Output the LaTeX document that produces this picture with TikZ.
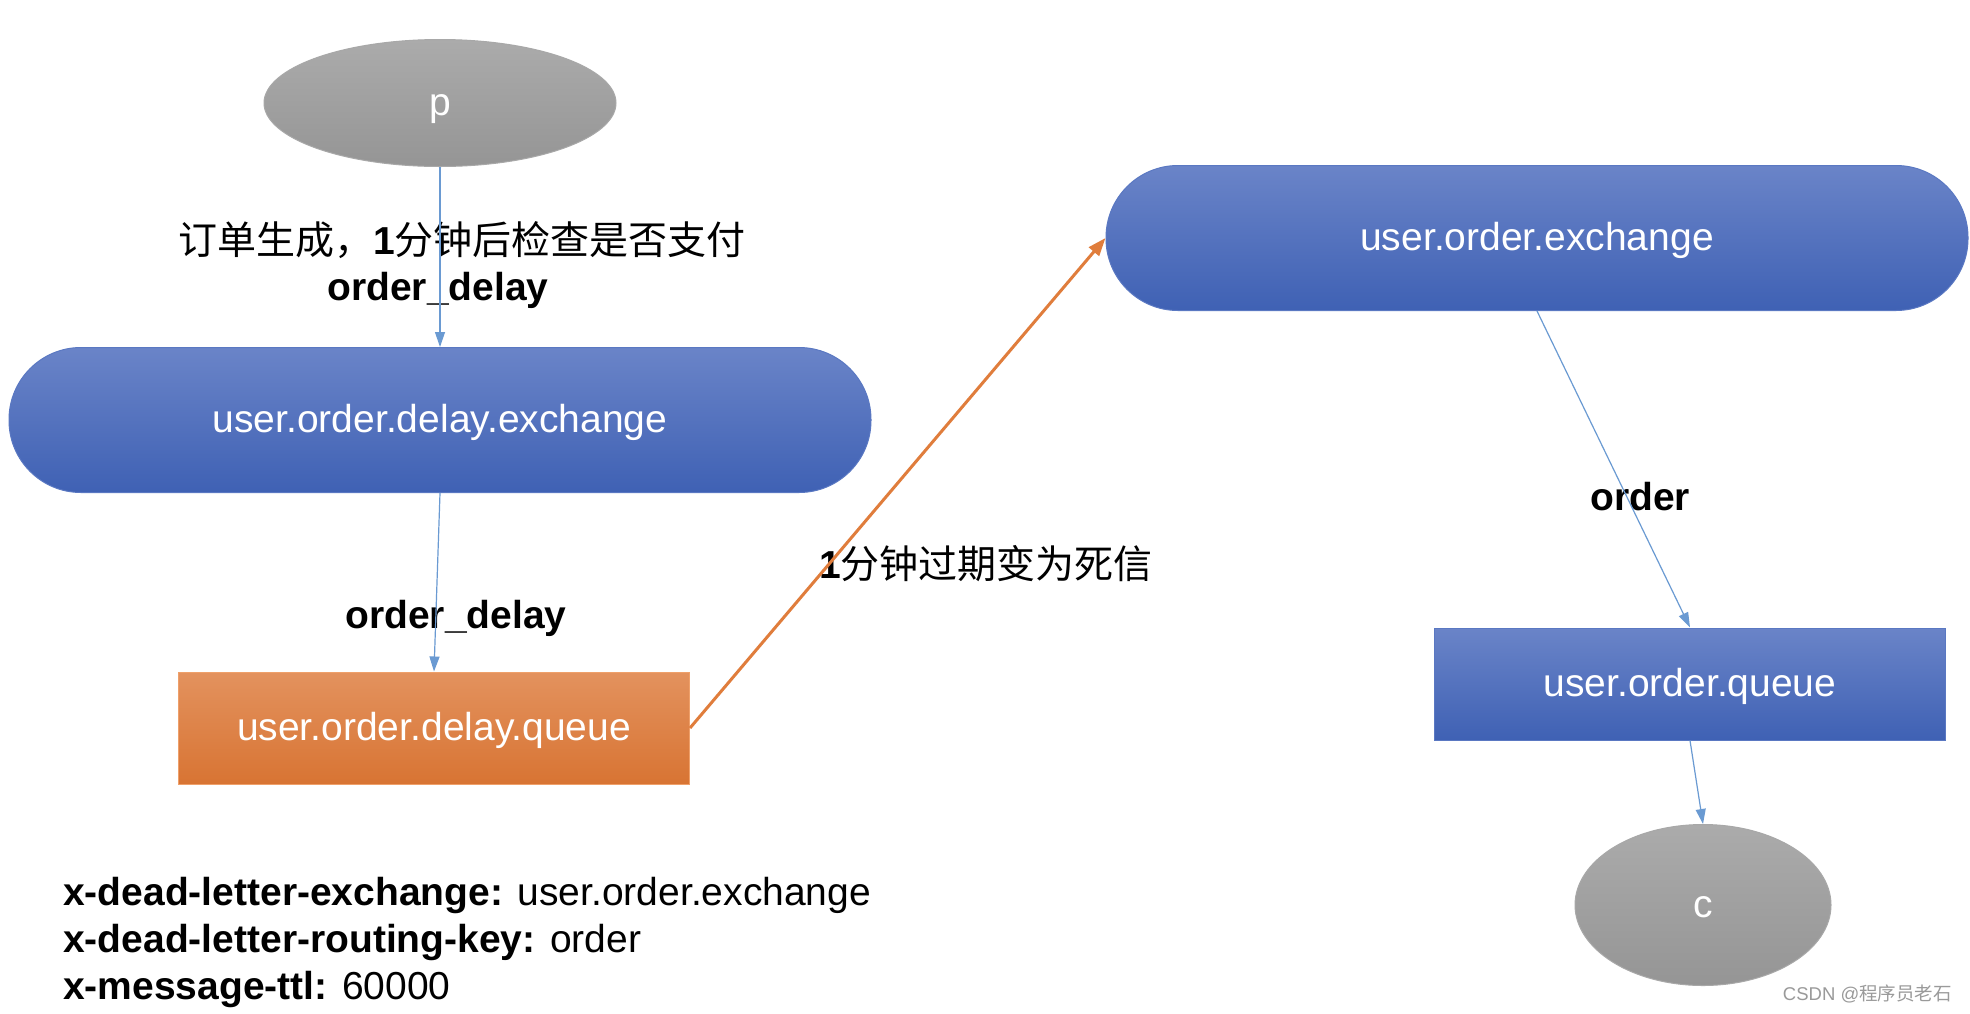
\documentclass[tikz,border=0pt]{standalone}
\usepackage{fontspec}
\setmainfont{Liberation Sans}
\newfontfamily\cjk{Noto Sans CJK SC}
\usetikzlibrary{arrows.meta,shapes.geometric}
\definecolor{blueTop}{HTML}{6A84C8}
\definecolor{blueMid}{HTML}{4A6FC2}
\definecolor{blueBot}{HTML}{3F61B4}
\definecolor{blueEdge}{HTML}{5A78C2}
\definecolor{grayTop}{HTML}{ABABAB}
\definecolor{grayBot}{HTML}{959595}
\definecolor{grayEdge}{HTML}{A8A8A8}
\definecolor{orTop}{HTML}{E3925E}
\definecolor{orMid}{HTML}{E5843F}
\definecolor{orBot}{HTML}{D87433}
\definecolor{orEdge}{HTML}{EFA06A}
\definecolor{linkBlue}{HTML}{6A9AD2}
\definecolor{linkOrange}{HTML}{E07D3C}
\definecolor{wmGray}{HTML}{9A9A9A}
\tikzset{
  big/.style={font=\fontsize{39}{47}\selectfont},
  shapetext/.style={big, text=white, text height=28.5pt, text depth=4.5pt, inner sep=0pt, line width=1pt},
  bluestadium/.style={shapetext, draw=blueEdge,
    top color=blueTop, middle color=blueMid, bottom color=blueBot,
    rectangle, rounded corners=72pt, minimum width=862pt, minimum height=145pt},
  bluebox/.style={shapetext, draw=blueEdge,
    top color=blueTop, middle color=blueMid, bottom color=blueBot,
    rectangle, minimum width=511pt, minimum height=112pt},
  orangebox/.style={shapetext, draw=orEdge,
    top color=orTop, middle color=orMid, bottom color=orBot,
    rectangle, minimum width=511pt, minimum height=112pt},
  grayell/.style={shapetext, draw=grayEdge,
    top color=grayTop, bottom color=grayBot, ellipse},
  lbl/.style={big, inner sep=0pt},
  blink/.style={draw=linkBlue, line width=1.2pt, -{Triangle[length=15pt,width=10pt]}},
  olink/.style={draw=linkOrange, line width=3pt, -{Triangle[length=18pt,width=13pt]}},
}
\begin{document}
\begin{tikzpicture}[x=1pt,y=-1pt]
\useasboundingbox[fill=white] (0,0) rectangle (1970,1013);

% shapes
\node[grayell, minimum width=352pt, minimum height=127pt] (p) at (440,103) {p};
\node[bluestadium] (dx) at (440,420) {user.order.delay.exchange};
\node[orangebox] (dq) at (434,728) {user.order.delay.queue};
\node[bluestadium] (ux) at (1537,238) {user.order.exchange};
\node[bluebox] (uq) at (1690,684) {user.order.queue};
\node[grayell, minimum width=256pt, minimum height=161pt] (c) at (1703,905) {c};

% labels
\node[lbl] (l1) at (462,240) {{\cjk 订单生成，}\textbf{1}{\cjk 分钟后检查是否支付}};
\node[lbl] (l2) at (438,290) {\textbf{order\_delay}};
\node[lbl] (l3) at (456,618) {\textbf{order\_delay}};
\node[lbl] (l4) at (986,564) {\textbf{1}{\cjk 分钟过期变为死信}};
\node[lbl] (l5) at (1640,497) {\textbf{order}};

\node[lbl, anchor=base west] (a1) at (63,905) {\textbf{x-dead-letter-exchange:} user.order.exchange};
\node[lbl, anchor=base west] (a2) at (63,952) {\textbf{x-dead-letter-routing-key:} order};
\node[lbl, anchor=base west] (a3) at (63,999) {\textbf{x-message-ttl:} 60000};

\node[inner sep=0pt, anchor=base east, text=wmGray, font=\fontsize{18.5}{22}\selectfont] (wm) at (1952,1000) {CSDN @{\cjk 程序员老石}};

% connectors
\draw[blink] (p.south) -- (dx.north);
\draw[blink] (dx.south) -- (dq.north);
\draw[olink] (dq.east) -- (ux.west);
\draw[blink] (ux.south) -- (uq.north);
\draw[blink] (uq.south) -- (c.north);
\end{tikzpicture}
\end{document}
